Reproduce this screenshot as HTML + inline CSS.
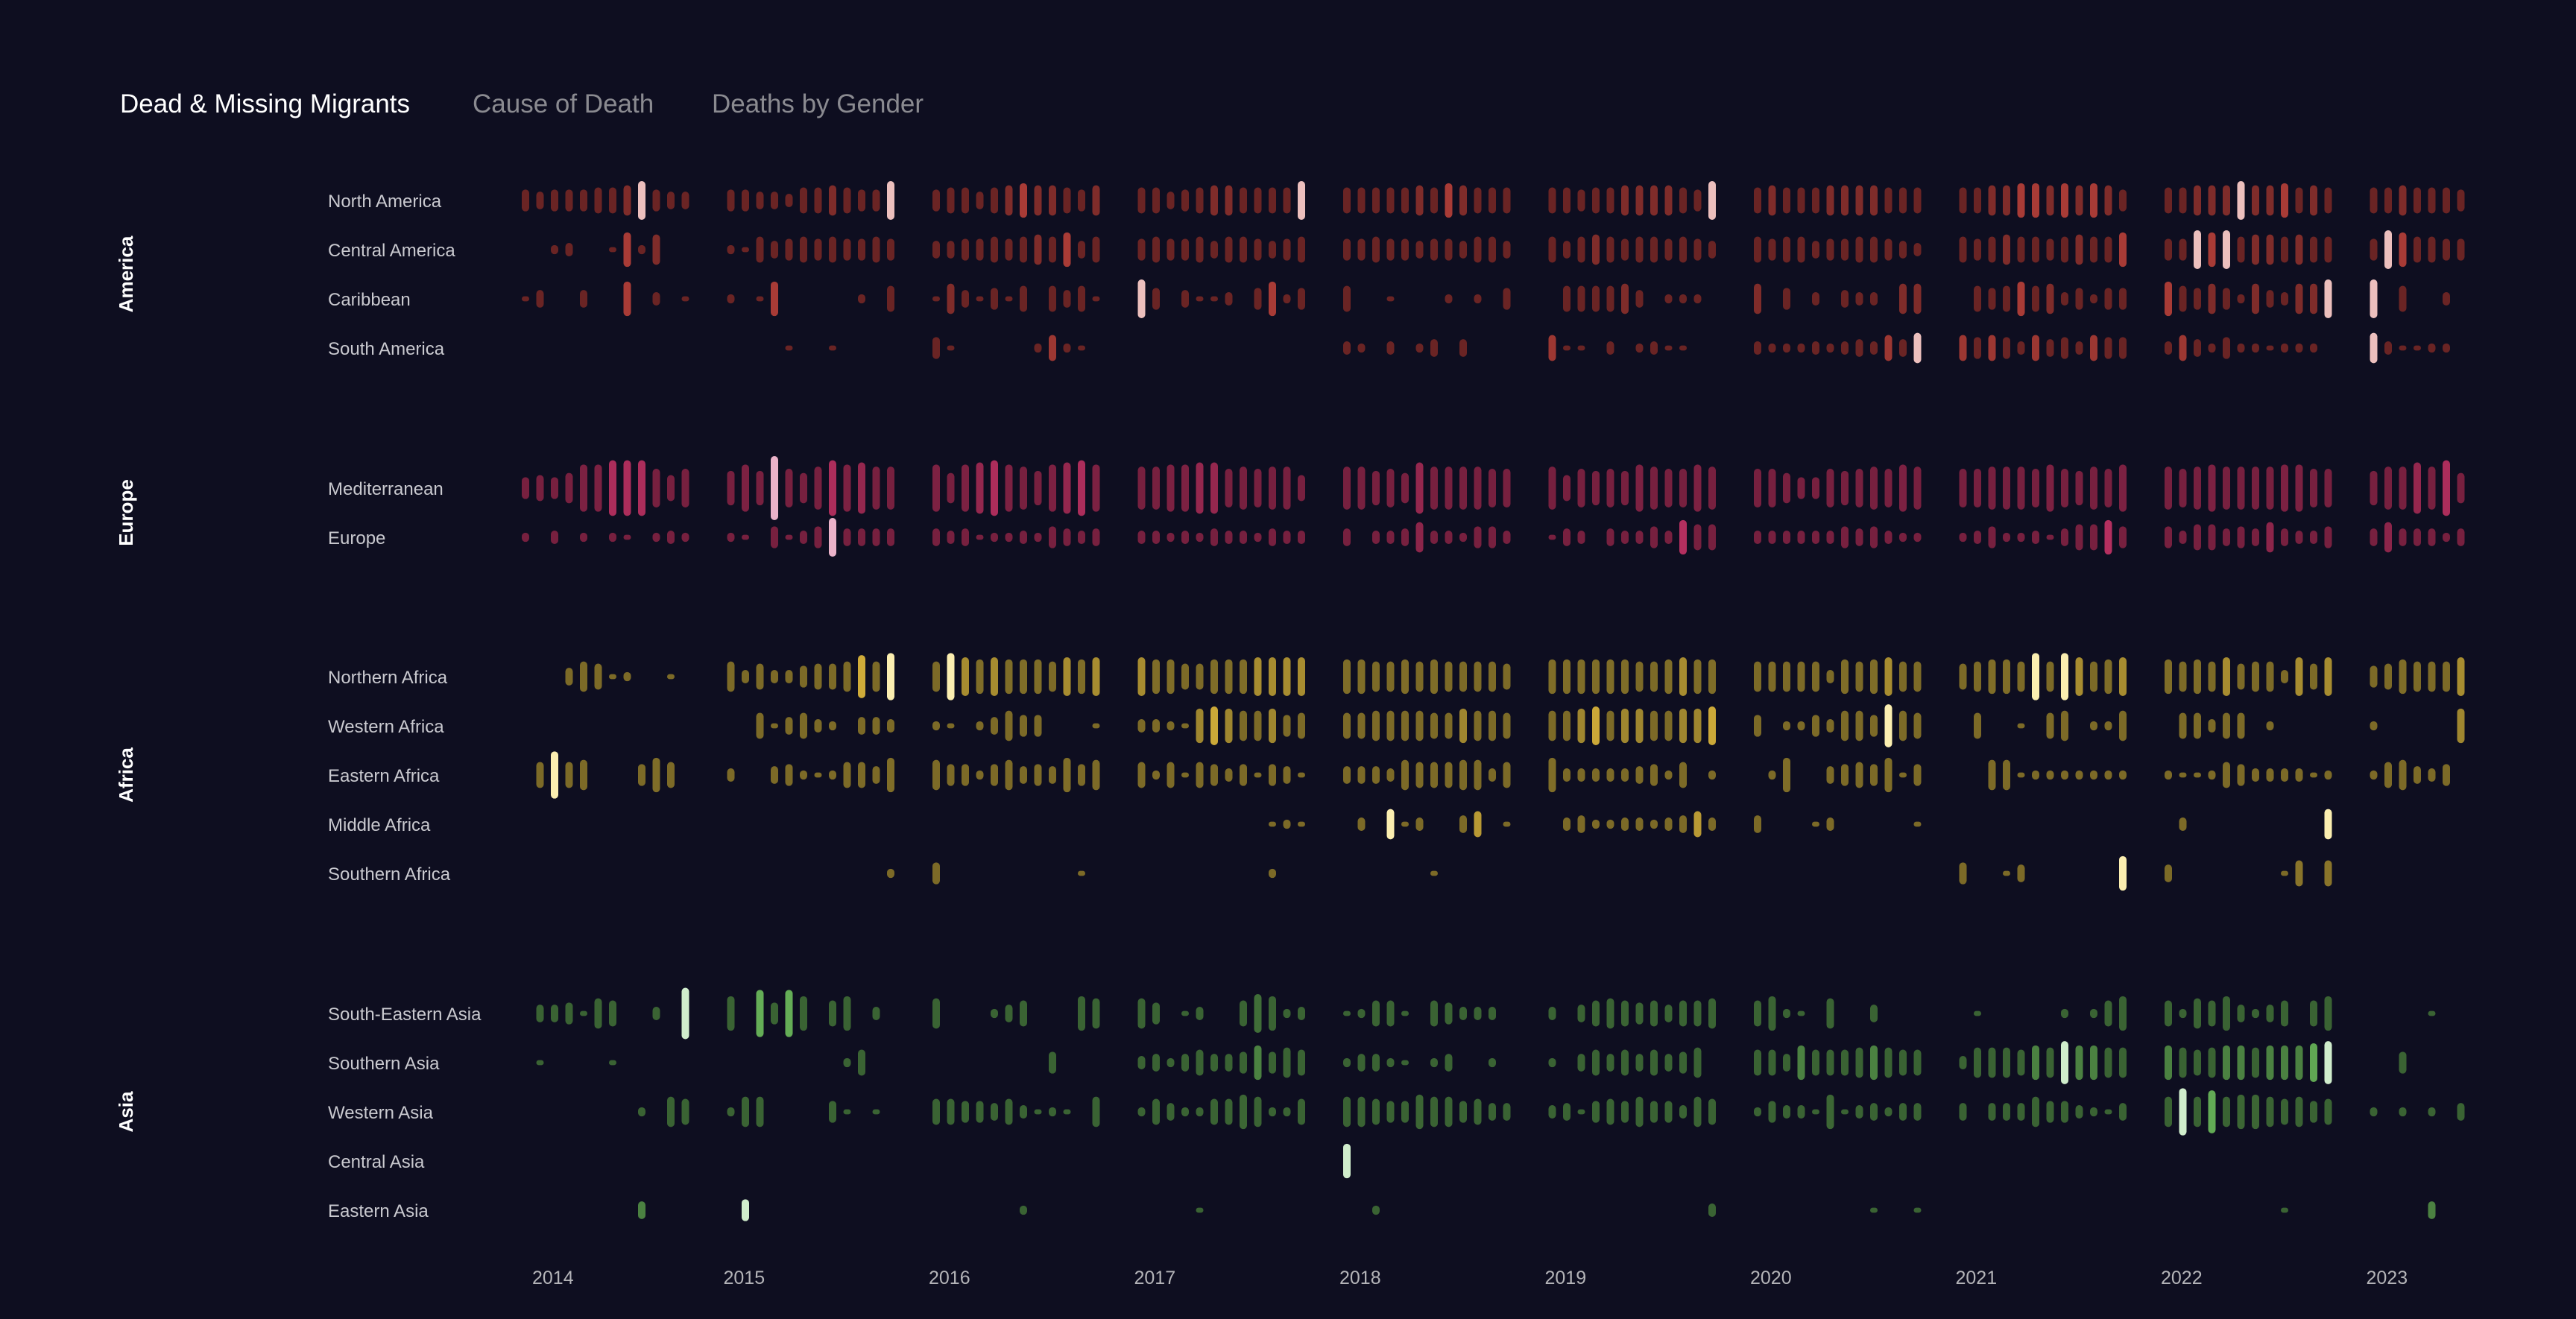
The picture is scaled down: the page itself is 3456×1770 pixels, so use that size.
<!DOCTYPE html>
<html><head><meta charset="utf-8"><style>
html,body{margin:0;padding:0;background:#0e0e20;}
svg{display:block;}
.tab{font-family:"Liberation Sans",sans-serif;font-size:35px;}
.rl{font-family:"Liberation Sans",sans-serif;font-size:24px;fill:#c9c9cf;}
.gl{font-family:"Liberation Sans",sans-serif;font-size:26px;font-weight:bold;fill:#ffffff;}
.yl{font-family:"Liberation Sans",sans-serif;font-size:25px;fill:#b4b4b8;}
</style></head><body>
<svg id="chart" width="3456" height="1770" viewBox="0 0 3456 1770" xmlns="http://www.w3.org/2000/svg">
<rect x="0" y="0" width="3456" height="1770" fill="#0e0e20"/>
<text class="tab" x="161" y="151" fill="#ffffff">Dead &amp; Missing Migrants</text>
<text class="tab" x="634" y="151" fill="#8a8a90">Cause of Death</text>
<text class="tab" x="955" y="151" fill="#8a8a90">Deaths by Gender</text>
<g id="labels"></g>
<g id="bars"></g>
</svg>
<script>
const years = [2014,2015,2016,2017,2018,2019,2020,2021,2022,2023];
const groups = ["America","Europe","Africa","Asia"];
const regionNames = ["North America","Central America","Caribbean","South America","Mediterranean","Europe","Northern Africa","Western Africa","Eastern Africa","Middle Africa","Southern Africa","South-Eastern Asia","Southern Asia","Western Asia","Central Asia","Eastern Asia"];
const regionGroup = [0,0,0,0,1,1,2,2,2,2,2,3,3,3,3,3];
const northAmerica = [
5,4,5,5,5,6,6,7,9,5,4,4,
5,5,4,4,3,6,6,7,6,5,5,9,
5,6,6,4,6,7,8,7,7,6,5,7,
6,6,4,5,6,7,7,6,6,6,6,9,
6,6,6,6,6,7,6,8,7,6,6,6,
6,6,5,6,6,7,7,7,7,6,5,9,
6,7,6,6,6,7,7,7,7,6,6,6,
6,6,7,7,8,8,7,8,7,8,7,5,
6,6,7,7,7,9,7,7,8,6,7,6,
6,6,7,6,6,6,5];
const centralAmerica = [
0,0,2,3,0,0,1,8,2,7,0,0,
2,1,6,4,5,6,5,6,5,5,6,5,
4,4,5,5,6,5,6,7,6,8,4,6,
5,6,5,5,6,4,6,6,5,4,5,6,
5,5,6,5,5,4,5,5,4,6,6,4,
6,4,6,7,6,5,6,6,5,6,5,4,
6,5,6,6,4,5,5,6,6,5,4,3,
6,5,6,7,6,6,5,6,7,6,6,8,
5,5,9,8,9,6,7,7,6,7,6,6,
5,9,8,6,6,5,5];
const caribbean = [
1,4,0,0,4,0,0,8,0,3,0,1,
2,0,1,8,0,0,0,0,0,2,0,6,
1,7,4,1,5,1,6,0,6,4,6,1,
9,5,0,4,1,1,3,0,5,8,2,5,
6,0,0,1,0,0,0,2,0,2,0,5,
0,6,6,6,6,7,4,0,2,2,2,0,
7,0,5,0,3,0,4,3,3,0,7,7,
0,6,5,6,8,6,7,3,5,2,5,5,
8,6,5,7,5,2,7,4,3,7,7,9,
9,0,6,0,0,3,0];
const southAmerica = [
0,0,0,0,0,0,0,0,0,0,0,0,
0,0,0,0,1,0,0,1,0,0,0,0,
5,1,0,0,0,0,0,2,6,2,1,0,
0,0,0,0,0,0,0,0,0,0,0,0,
3,2,0,3,0,2,4,0,4,0,0,0,
6,1,1,0,3,0,2,3,1,1,0,0,
3,2,2,2,3,2,3,4,3,6,4,7,
6,5,6,5,3,6,4,5,3,6,5,5,
3,6,4,2,5,2,2,1,2,2,2,0,
7,3,1,1,2,2,0];
const mediterranean = [
5,6,5,7,11,11,13,13,13,9,6,9,
8,11,8,15,9,7,10,13,11,12,10,10,
11,7,11,12,13,11,10,8,11,12,13,11,
10,10,11,11,12,12,9,10,9,10,10,6,
10,10,8,9,7,12,10,10,10,10,9,9,
10,6,9,8,9,8,11,10,9,9,11,10,
9,9,7,5,5,9,8,9,10,9,11,10,
9,9,10,10,10,9,11,9,8,10,9,11,
10,9,10,11,10,10,10,10,11,11,9,9,
8,10,10,12,10,13,7];
const europe = [
2,0,3,0,2,0,2,1,0,2,3,2,
2,1,0,5,1,3,5,9,4,4,4,4,
4,3,4,1,2,2,3,2,5,4,3,4,
3,3,2,3,2,4,3,3,2,4,3,3,
4,0,3,3,4,7,3,3,2,5,5,3,
1,4,3,0,4,3,3,5,3,8,6,6,
3,3,3,3,3,3,5,4,5,3,2,2,
2,3,5,2,2,3,1,4,6,6,8,5,
5,3,6,6,4,5,4,7,4,3,3,5,
4,7,4,4,4,2,4];
const northernAfrica = [
0,0,0,4,7,6,1,2,0,0,1,0,
7,3,6,3,3,5,6,6,7,10,7,11,
7,11,9,8,9,8,8,8,7,9,8,9,
9,8,8,6,6,8,8,8,9,9,9,9,
8,8,7,7,8,7,8,7,7,7,7,6,
8,8,8,8,8,8,7,7,8,9,8,8,
7,7,7,7,7,3,8,7,8,9,7,7,
6,7,8,8,7,11,7,11,9,7,8,9,
8,7,8,7,9,6,7,7,3,9,6,9,
5,6,8,7,7,7,9];
const westernAfrica = [
0,0,0,0,0,0,0,0,0,0,0,0,
0,0,6,1,4,6,3,2,0,4,4,3,
2,1,0,2,4,7,5,5,0,0,0,1,
3,3,2,1,8,9,8,7,7,8,5,6,
6,6,7,7,7,7,6,6,8,7,7,6,
7,7,8,9,7,8,8,7,7,8,8,9,
5,0,2,2,5,3,7,7,5,10,7,6,
0,6,0,0,1,0,6,7,0,2,2,7,
0,6,6,3,6,6,0,2,0,0,0,0,
2,0,0,0,0,0,8];
const easternAfrica = [
0,6,11,6,7,0,0,0,5,8,6,0,
3,0,0,4,5,2,1,2,6,6,4,8,
7,5,5,2,5,7,4,5,4,8,5,7,
6,2,6,1,6,5,3,5,1,5,4,1,
4,4,4,3,7,6,6,6,7,7,3,6,
8,3,3,3,3,3,4,5,2,6,0,2,
0,2,8,0,0,4,5,6,5,8,1,5,
0,0,7,7,1,2,2,2,2,2,2,2,
2,1,1,2,6,5,3,3,3,3,1,2,
2,6,7,4,3,5,0];
const middleAfrica = [
0,0,0,0,0,0,0,0,0,0,0,0,
0,0,0,0,0,0,0,0,0,0,0,0,
0,0,0,0,0,0,0,0,0,0,0,0,
0,0,0,0,0,0,0,0,0,1,2,1,
0,3,0,7,1,3,0,0,4,6,0,1,
0,3,4,2,2,3,3,2,3,4,6,3,
4,0,0,0,1,3,0,0,0,0,0,1,
0,0,0,0,0,0,0,0,0,0,0,0,
0,3,0,0,0,0,0,0,0,0,0,7,
0,0,0,0,0,0,0];
const southernAfrica = [
0,0,0,0,0,0,0,0,0,0,0,0,
0,0,0,0,0,0,0,0,0,0,0,2,
5,0,0,0,0,0,0,0,0,0,1,0,
0,0,0,0,0,0,0,0,0,2,0,0,
0,0,0,0,0,0,1,0,0,0,0,0,
0,0,0,0,0,0,0,0,0,0,0,0,
0,0,0,0,0,0,0,0,0,0,0,0,
5,0,0,1,4,0,0,0,0,0,0,8,
4,0,0,0,0,0,0,0,1,6,0,6,
0,0,0,0,0,0,0];
const southEasternAsia = [
0,4,4,5,1,7,6,0,0,3,0,12,
8,0,11,5,11,8,0,6,8,0,3,0,
7,0,0,0,2,4,6,0,0,0,8,7,
7,5,0,1,3,0,0,6,9,8,2,3,
1,2,6,6,1,0,6,5,3,3,3,0,
3,0,4,6,7,6,5,6,4,6,6,7,
6,8,2,1,0,7,0,0,4,0,0,0,
0,1,0,0,0,0,0,2,0,2,6,8,
6,2,7,6,8,4,2,4,6,0,6,8,
0,0,0,0,1,0,0];
const southernAsia = [
0,1,0,0,0,0,1,0,0,0,0,0,
0,0,0,0,0,0,0,0,2,6,0,0,
0,0,0,0,0,0,0,0,5,0,0,0,
3,4,2,4,6,4,4,5,8,5,7,6,
2,4,4,2,1,0,2,4,0,0,2,0,
2,0,4,6,4,6,4,6,4,5,7,0,
6,6,4,8,6,6,6,7,8,7,6,6,
3,7,7,7,6,8,7,10,8,8,7,7,
8,7,6,7,8,8,7,8,8,8,9,10,
0,0,5,0,0,0,0];
const westernAsia = [
0,0,0,0,0,0,0,0,2,0,7,6,
2,7,7,0,0,0,0,5,1,0,1,0,
6,6,5,5,4,6,3,1,2,1,0,7,
2,6,4,2,2,6,6,8,7,2,2,6,
7,7,6,5,5,8,7,7,5,6,4,4,
3,4,1,5,6,5,7,5,5,3,7,6,
2,5,3,3,1,8,1,3,4,2,4,4,
4,0,4,4,4,7,5,5,3,2,1,4,
7,11,7,10,7,8,8,7,6,7,5,6,
2,0,2,0,2,0,4];
const centralAsia = [
0,0,0,0,0,0,0,0,0,0,0,0,
0,0,0,0,0,0,0,0,0,0,0,0,
0,0,0,0,0,0,0,0,0,0,0,0,
0,0,0,0,0,0,0,0,0,0,0,0,
8,0,0,0,0,0,0,0,0,0,0,0,
0,0,0,0,0,0,0,0,0,0,0,0,
0,0,0,0,0,0,0,0,0,0,0,0,
0,0,0,0,0,0,0,0,0,0,0,0,
0,0,0,0,0,0,0,0,0,0,0,0,
0,0,0,0,0,0,0];
const easternAsia = [
0,0,0,0,0,0,0,0,4,0,0,0,
0,5,0,0,0,0,0,0,0,0,0,0,
0,0,0,0,0,0,2,0,0,0,0,0,
0,0,0,0,1,0,0,0,0,0,0,0,
0,0,2,0,0,0,0,0,0,0,0,0,
0,0,0,0,0,0,0,0,0,0,0,3,
0,0,0,0,0,0,0,0,1,0,0,1,
0,0,0,0,0,0,0,0,0,0,0,0,
0,0,0,0,0,0,0,0,1,0,0,0,
0,0,0,0,4,0,0];
const seriesList = [northAmerica,centralAmerica,caribbean,southAmerica,mediterranean,europe,northernAfrica,westernAfrica,easternAfrica,middleAfrica,southernAfrica,southEasternAsia,southernAsia,westernAsia,centralAsia,easternAsia];

// layout (not data)
const NS = "http://www.w3.org/2000/svg";
const rowY = [269,335,401,467,655,721,908,974,1040,1106,1172,1360,1426,1492,1558,1624];
const palette = [
  ["#6a2424","#bb423b","#ecbfbd"],
  ["#77203f","#c63369","#ebb2c9"],
  ["#7c6a27","#dcb63c","#fbeeb0"],
  ["#3a6333","#69b65a","#d0edcc"]
];
function xScale(i){ const y=Math.floor(i/12), m=i%12; return 705 + 275.5*y + 19.5*m; }
function hScale(v){ return 1 + 5.67*v; }
function hex(c){ return [parseInt(c.slice(1,3),16),parseInt(c.slice(3,5),16),parseInt(c.slice(5,7),16)]; }
function mix(a,b,t){ const A=hex(a),B=hex(b); return "rgb("+A.map((x,k)=>Math.round(x+(B[k]-x)*t)).join(",")+")"; }
function colorFor(v,max,g){
  const t=v/max, p=palette[g];
  if(t>=0.99) return p[2];
  if(t<0.72) return p[0];
  return mix(p[0],p[1],Math.min(1,(t-0.72)/0.22));
}
const labels=document.getElementById("labels");
const barsG=document.getElementById("bars");
regionNames.forEach((name,r)=>{
  const t=document.createElementNS(NS,"text");
  t.setAttribute("class","rl");
  t.setAttribute("x",440);
  t.setAttribute("y",rowY[r]+9);
  t.textContent=name;
  
  
  labels.appendChild(t);
});
groups.forEach((g,gi)=>{
  const rows=rowY.filter((_,r)=>regionGroup[r]===gi);
  const cy=(rows[0]+rows[rows.length-1])/2;
  const t=document.createElementNS(NS,"text");
  t.setAttribute("class","gl");
  t.setAttribute("text-anchor","middle");
  t.setAttribute("transform","translate(178,"+cy+") rotate(-90)");
  t.textContent=g;
  
  
  labels.appendChild(t);
});
years.forEach((yr,i)=>{
  const t=document.createElementNS(NS,"text");
  t.setAttribute("class","yl");
  t.setAttribute("x",Math.max(714, xScale(i*12)-10));
  t.setAttribute("y",1723);
  t.textContent=yr;
  
  
  labels.appendChild(t);
});
seriesList.forEach((vals,r)=>{
  const max=Math.max(...vals);
  const g=regionGroup[r];
  vals.forEach((v,i)=>{
    if(!v) return;
    const h=hScale(v), x=xScale(i);
    const b=document.createElementNS(NS,"rect");
    b.setAttribute("x",x-5);
    b.setAttribute("y",rowY[r]-h/2);
    b.setAttribute("width",10);
    b.setAttribute("height",h);
    b.setAttribute("rx",Math.min(5,h/2));
    b.setAttribute("fill",colorFor(v,max,g));
    
    
    barsG.appendChild(b);
  });
});
</script>
</body></html>
